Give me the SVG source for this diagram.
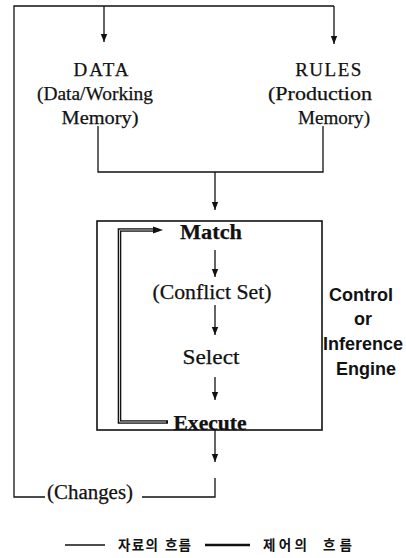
<svg xmlns="http://www.w3.org/2000/svg" width="406" height="558" viewBox="0 0 406 558">
  <style>
    .bg { fill: #ffffff; }
    .ln { fill: none; stroke: #111; stroke-width: 1.3; }
    .box { fill: none; stroke: #111; stroke-width: 1.6; }
    .serif { font-family: "Liberation Serif", "Times New Roman", serif; fill: #111; stroke: #111; stroke-width: 0.25; }
    .sans { font-family: "Liberation Sans", Arial, sans-serif; fill: #111; font-weight: bold; }
    .kr { font-family: "Noto Sans CJK KR", "Noto Sans", sans-serif; fill: #111; font-weight: bold; font-size: 13.5px; }
    .ctl-outer { fill: none; stroke: #111; stroke-width: 3.6; }
    .ctl-inner { fill: none; stroke: #cfcfcf; stroke-width: 1; }
  </style>
  <defs>
    <marker id="arr" viewBox="0 0 8 10" refX="8" refY="5" markerWidth="8" markerHeight="10" markerUnits="userSpaceOnUse" orient="auto">
      <path d="M0,1.8 L8,5 L0,8.2 z" fill="#111"/>
    </marker>
  </defs>

  <rect class="bg" x="0" y="0" width="406" height="558"/>

  <!-- data-flow connectors -->
  <g id="connectors">
    <!-- feedback loop: changes back into data and rules -->
    <path class="ln" d="M45,497 H14 V6 H334"/>
    <path class="ln" d="M104,6 V42" marker-end="url(#arr)"/>
    <path class="ln" d="M334,6 V44" marker-end="url(#arr)"/>
    <!-- data and rules merge into the engine -->
    <path class="ln" d="M98,126 V172 H323 V126"/>
    <path class="ln" d="M215,172 V210" marker-end="url(#arr)"/>
    <!-- inside the cycle -->
    <path class="ln" d="M215,250 V277" marker-end="url(#arr)"/>
    <path class="ln" d="M215,305 V335" marker-end="url(#arr)"/>
    <path class="ln" d="M215,377 V400" marker-end="url(#arr)"/>
    <!-- out of the engine -->
    <path class="ln" d="M215,430 V462" marker-end="url(#arr)"/>
    <path class="ln" d="M215,478 V497 H142"/>
  </g>

  <!-- control flow: Execute back to Match -->
  <g id="control-flow">
    <path class="ctl-outer" d="M168,422 H119.5 V230 H155" />
    <path class="ctl-inner" d="M166,422 H119.5 V230 H153" />
    <path d="M153,226.5 L163,230 L153,233.5 z" fill="#111"/>
  </g>

  <g id="data">
    <text class="serif" x="102" y="76" font-size="19" letter-spacing="2" text-anchor="middle">DATA</text>
    <text class="serif" x="95" y="100" font-size="19.5" text-anchor="middle" textLength="116" lengthAdjust="spacingAndGlyphs">(Data/Working</text>
    <text class="serif" x="100" y="124" font-size="19.5" text-anchor="middle" textLength="77" lengthAdjust="spacingAndGlyphs">Memory)</text>
  </g>

  <g id="rules">
    <text class="serif" x="329" y="76" font-size="19" letter-spacing="1.5" text-anchor="middle">RULES</text>
    <text class="serif" x="320" y="100" font-size="19.5" text-anchor="middle" textLength="104" lengthAdjust="spacingAndGlyphs">(Production</text>
    <text class="serif" x="334" y="124" font-size="19.5" text-anchor="middle" textLength="72" lengthAdjust="spacingAndGlyphs">Memory)</text>
  </g>

  <g id="engine">
    <rect class="box" x="97" y="221" width="225" height="209"/>
    <text class="serif" x="211" y="239" font-size="21" font-weight="bold" text-anchor="middle" textLength="62" lengthAdjust="spacingAndGlyphs">Match</text>
    <text class="serif" x="212" y="299" font-size="20" text-anchor="middle" textLength="119" lengthAdjust="spacingAndGlyphs">(Conflict Set)</text>
    <text class="serif" x="211" y="364" font-size="21" text-anchor="middle" textLength="57" lengthAdjust="spacingAndGlyphs" stroke-width="0.5">Select</text>
    <text class="serif" x="210" y="430" font-size="21" font-weight="bold" text-anchor="middle" textLength="73" lengthAdjust="spacingAndGlyphs">Execute</text>
  </g>

  <g id="engine-label">
    <text class="sans" x="361" y="301" font-size="18" text-anchor="middle">Control</text>
    <text class="sans" x="363" y="325" font-size="18" text-anchor="middle">or</text>
    <text class="sans" x="363" y="350" font-size="18" text-anchor="middle">Inference</text>
    <text class="sans" x="366" y="375" font-size="18" text-anchor="middle">Engine</text>
  </g>

  <g id="changes">
    <text class="serif" x="47" y="499" font-size="20" textLength="86" lengthAdjust="spacingAndGlyphs">(Changes)</text>
  </g>

  <g id="legend">
    <line class="ln" x1="65" y1="545" x2="105" y2="545" stroke-width="1"/>
    <text class="kr" x="118" y="550" textLength="40" lengthAdjust="spacing">자료의</text>
    <text class="kr" x="165" y="550" textLength="26" lengthAdjust="spacing">흐름</text>
    <line x1="205" y1="545" x2="250" y2="545" stroke="#111" stroke-width="2.4"/>
    <text class="kr" x="263" y="550" textLength="44" lengthAdjust="spacing">제어의</text>
    <text class="kr" x="323" y="550" textLength="29" lengthAdjust="spacing">흐름</text>
  </g>
</svg>
